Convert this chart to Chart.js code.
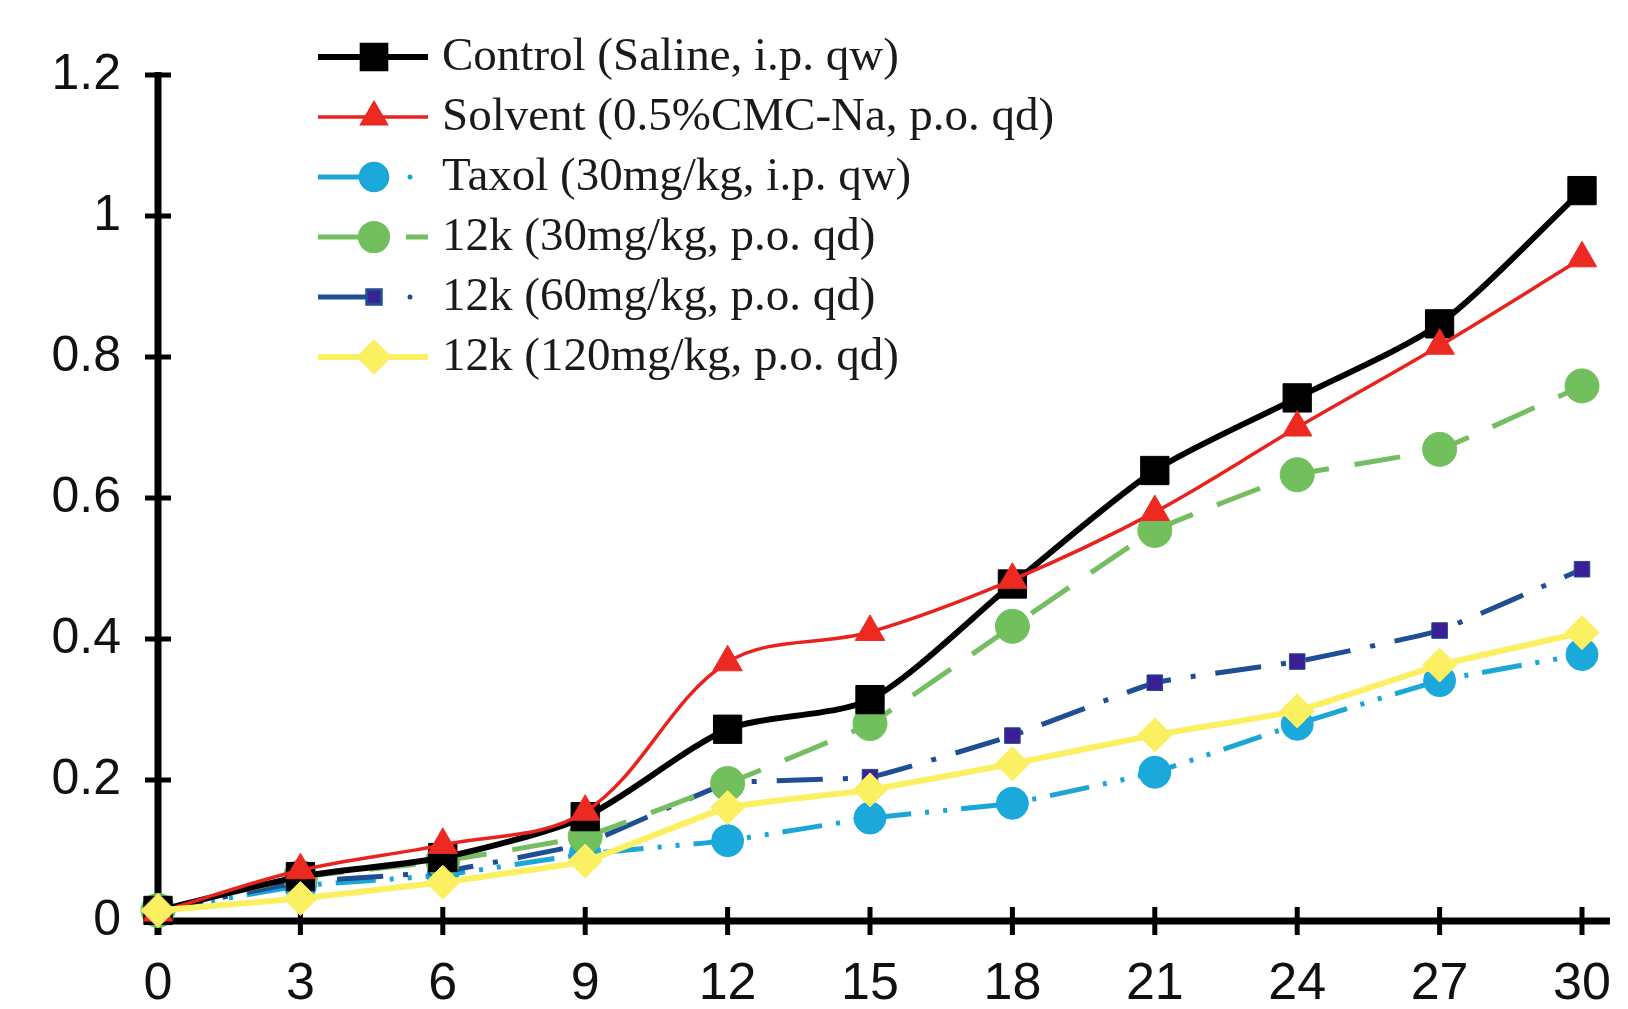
<!DOCTYPE html>
<html>
<head>
<meta charset="utf-8">
<script src="https://cdn.jsdelivr.net/npm/chart.js@4/dist/chart.umd.min.js"></script>
<style>
  html, body { margin: 0; padding: 0; background: #ffffff; }
  #wrap { width: 1628px; height: 1009px; }
</style>
</head>
<body>
<div id="wrap"><canvas id="chart" width="1628" height="1009"></canvas></div>
<script>
//days on the x axis
const days = [0, 3, 6, 9, 12, 15, 18, 21, 24, 27, 30];
//series names
const seriesNames = [
  "Control (Saline, i.p. qw)",
  "Solvent (0.5%CMC-Na, p.o. qd)",
  "Taxol (30mg/kg, i.p. qw)",
  "12k (30mg/kg, p.o. qd)",
  "12k (60mg/kg, p.o. qd)",
  "12k (120mg/kg, p.o. qd)",
];
//values
const control = [0.015, 0.063, 0.09, 0.148, 0.272, 0.314, 0.478, 0.639, 0.742, 0.847, 1.036];
const solvent = [0.012, 0.072, 0.108, 0.155, 0.367, 0.41, 0.484, 0.58, 0.70, 0.816, 0.94];
const taxol = [0.015, 0.05, 0.065, 0.095, 0.114, 0.146, 0.167, 0.211, 0.279, 0.341, 0.378];
const k30 = [0.015, 0.062, 0.085, 0.12, 0.195, 0.28, 0.418, 0.554, 0.633, 0.669, 0.759];
const k60 = [0.015, 0.055, 0.07, 0.11, 0.195, 0.204, 0.263, 0.338, 0.368, 0.412, 0.499];
const k120 = [0.015, 0.032, 0.055, 0.085, 0.161, 0.186, 0.223, 0.264, 0.298, 0.363, 0.409];
//y axis ticks
const yMin = 0, yMax = 1.2, yStep = 0.2;

const toPoints = (vals) => vals.map((v, i) => ({ x: days[i], y: v }));

//draws the thick axes with ticks crossing the line
const axesPlugin = {
  id: "axes",
  beforeDatasetsDraw(chart) {
    const ctx = chart.ctx;
    const xs = chart.scales.x;
    const ys = chart.scales.y;
    const x0 = xs.getPixelForValue(0);
    const y0 = ys.getPixelForValue(0);
    ctx.save();
    ctx.strokeStyle = "#000";
    ctx.lineCap = "butt";
    ctx.lineWidth = 7;
    ctx.beginPath();
    ctx.moveTo(x0, ys.getPixelForValue(yMax) - 3);
    ctx.lineTo(x0, y0 + 14);
    ctx.moveTo(x0 - 3, y0);
    ctx.lineTo(xs.getPixelForValue(30) + 28, y0);
    ctx.stroke();
    ctx.lineWidth = 5;
    ctx.beginPath();
    ys.ticks.forEach((t) => {
      const p = ys.getPixelForValue(t.value);
      ctx.moveTo(x0 - 13, p);
      ctx.lineTo(x0 + 13, p);
    });
    xs.ticks.forEach((t) => {
      const p = xs.getPixelForValue(t.value);
      ctx.moveTo(p, y0 - 14);
      ctx.lineTo(p, y0 + 14);
    });
    ctx.stroke();
    ctx.restore();
  },
};

//legend drawn in the top left like the original
const legendPlugin = {
  id: "sideLegend",
  afterDraw(chart) {
    const ctx = chart.ctx;
    const rowY = 57, rowGap = 60;
    const lineX0 = 318, markX = 374, lineX1 = 428, textX = 442;
    ctx.save();
    chart.data.datasets.forEach((ds, i) => {
      const y = rowY + i * rowGap;
      ctx.strokeStyle = ds.borderColor;
      ctx.lineWidth = ds.borderWidth;
      ctx.setLineDash([]);
      ctx.beginPath();
      ctx.moveTo(lineX0, y);
      if (ds.legendTail === "solid") {
        ctx.lineTo(lineX1, y);
      } else {
        ctx.lineTo(markX, y);
      }
      ctx.stroke();
      if (ds.legendTail === "dot") {
        ctx.beginPath();
        ctx.arc(410, y, 2.5, 0, Math.PI * 2);
        ctx.fillStyle = ds.borderColor;
        ctx.fill();
      } else if (ds.legendTail === "dash") {
        ctx.beginPath();
        ctx.moveTo(406, y);
        ctx.lineTo(lineX1, y);
        ctx.stroke();
      }
      Chart.helpers.drawPoint(ctx, {
        pointStyle: ds.pointStyle,
        radius: ds.pointRadius * 0.8,
        borderWidth: 1,
        rotation: 0,
      }, markX, y);
      ctx.fillStyle = ds.pointBackgroundColor;
      ctx.strokeStyle = ds.pointBorderColor;
      ctx.lineWidth = 1;
      ctx.fill();
      ctx.stroke();
      ctx.fillStyle = "#1a1a1a";
      ctx.font = "47px 'Liberation Serif', serif";
      ctx.textBaseline = "middle";
      ctx.fillText(seriesNames[i], textX, y + 1);
    });
    ctx.restore();
  },
};

const makeSet = (i, vals, opts) => Object.assign({
  label: seriesNames[i],
  data: toPoints(vals),
  fill: false,
  clip: false,
  pointBorderWidth: 1,
  pointHoverRadius: 0,
}, opts);

new Chart(document.getElementById("chart"), {
  type: "line",
  plugins: [axesPlugin, legendPlugin],
  data: {
    datasets: [
      makeSet(0, control, {
        borderColor: "#000000", borderWidth: 6, tension: 0.25,
        pointStyle: "rect", pointRadius: 20,
        pointBackgroundColor: "#000000", pointBorderColor: "#000000",
        legendTail: "solid", order: 2,
      }),
      makeSet(1, solvent, {
        borderColor: "#e8231e", borderWidth: 3.5, tension: 0.35,
        pointStyle: "triangle", pointRadius: 17,
        pointBackgroundColor: "#ec2a22", pointBorderColor: "#ec2a22",
        legendTail: "solid", order: 1,
      }),
      makeSet(2, taxol, {
        borderColor: "#1ba6d6", borderWidth: 5, tension: 0.1,
        borderDash: [40, 14, 4, 14, 4, 14],
        pointStyle: "circle", pointRadius: 16,
        pointBackgroundColor: "#1ba8da", pointBorderColor: "#1ba8da",
        legendTail: "dot", order: 5,
      }),
      makeSet(3, k30, {
        borderColor: "#74bd60", borderWidth: 5, tension: 0.1,
        borderDash: [46, 26],
        pointStyle: "circle", pointRadius: 17,
        pointBackgroundColor: "#72bf5e", pointBorderColor: "#72bf5e",
        legendTail: "dash", order: 3,
      }),
      makeSet(4, k60, {
        borderColor: "#1f4e92", borderWidth: 5, tension: 0.1,
        borderDash: [46, 20, 5, 20],
        pointStyle: "rect", pointRadius: 11,
        pointBackgroundColor: "#3a1f96", pointBorderColor: "#1f4e92",
        legendTail: "dot", order: 4,
      }),
      makeSet(5, k120, {
        borderColor: "#fbf062", borderWidth: 6, tension: 0.1,
        pointStyle: "rectRot", pointRadius: 17,
        pointBackgroundColor: "#fbf062", pointBorderColor: "#fbf062",
        legendTail: "solid", order: 0,
      }),
    ],
  },
  options: {
    responsive: false,
    animation: false,
    layout: { padding: { left: 0, right: 46, top: 75, bottom: 0 } },
    plugins: {
      legend: { display: false },
      tooltip: { enabled: false },
    },
    scales: {
      x: {
        type: "linear",
        min: 0,
        max: 30,
        grid: { display: false, drawTicks: false },
        border: { display: false },
        ticks: {
          stepSize: 3,
          padding: 32,
          color: "#111",
          font: { family: "'Liberation Sans', Arial, sans-serif", size: 52 },
        },
        afterFit(scale) {
          scale.height = 88;
          scale.paddingLeft = 0;
          scale.paddingRight = 0;
        },
      },
      y: {
        min: yMin,
        max: yMax,
        grid: { display: false, drawTicks: false },
        border: { display: false },
        ticks: {
          stepSize: yStep,
          padding: 37,
          color: "#111",
          font: { family: "'Liberation Sans', Arial, sans-serif", size: 50 },
          callback: (v) => String(Number(v.toFixed(1))),
        },
        afterFit(scale) {
          scale.width = 158;
          scale.paddingTop = 0;
          scale.paddingBottom = 0;
        },
      },
    },
  },
});
</script>
</body>
</html>
